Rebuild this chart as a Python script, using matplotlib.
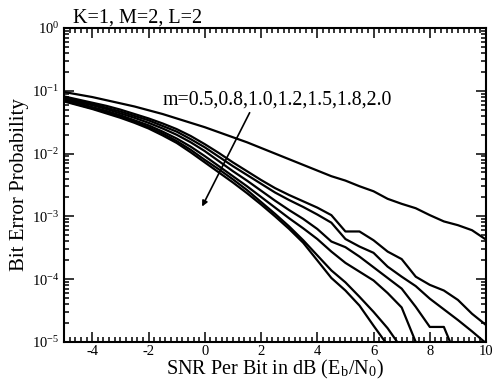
import numpy as np
import matplotlib
matplotlib.use("Agg")
import matplotlib.pyplot as plt
from matplotlib.ticker import LogLocator, MultipleLocator, NullFormatter

plt.rcParams['font.family'] = ['Liberation Serif', 'DejaVu Serif']
plt.rcParams['mathtext.fontset'] = 'stix'
plt.rcParams['axes.unicode_minus'] = False

# SNR per bit (dB)
snr = np.arange(-5, 10.01, 0.5)

# log10(BER), one list per fading parameter m
nan = np.nan
log_m05 = [-1.02, -1.06, -1.10, -1.15, -1.20, -1.25, -1.31, -1.37, -1.44, -1.51, -1.58,
           -1.66, -1.74, -1.82, -1.91, -2.00, -2.09, -2.18, -2.27, -2.36, -2.43,
           -2.52, -2.60, -2.72, -2.80, -2.87, -2.98, -3.08, -3.14, -3.22, -3.37]
log_m08 = [-1.09, -1.14, -1.19, -1.24, -1.30, -1.37, -1.44, -1.52, -1.61, -1.72, -1.85,
           -1.99, -2.14, -2.28, -2.42, -2.55, -2.66, -2.76, -2.86, -2.98, -3.24,
           -3.24, -3.38, -3.56, -3.68, -3.96, -4.09, -4.18, -4.33, -4.55, -4.73]
log_m10 = [-1.11, -1.16, -1.21, -1.27, -1.33, -1.40, -1.47, -1.56, -1.65, -1.77, -1.90,
           -2.05, -2.20, -2.34, -2.48, -2.62, -2.74, -2.85, -2.97, -3.10, -3.36,
           -3.48, -3.58, -3.80, -3.96, -4.11, -4.31, -4.48, -4.65, -4.83, -5.02]
log_m12 = [-1.13, -1.18, -1.23, -1.29, -1.36, -1.43, -1.51, -1.60, -1.70, -1.82, -1.96,
           -2.12, -2.28, -2.43, -2.59, -2.75, -2.90, -3.04, -3.20, -3.40, -3.49,
           -3.64, -3.81, -3.98, -4.15, -4.44, -4.76, -4.76, -5.30, nan, nan]
log_m15 = [-1.15, -1.20, -1.26, -1.32, -1.39, -1.47, -1.55, -1.65, -1.76, -1.89, -2.04,
           -2.20, -2.36, -2.52, -2.69, -2.86, -3.03, -3.19, -3.36, -3.56, -3.74,
           -3.88, -4.02, -4.22, -4.45, -5.00, -5.50, nan, nan, nan, nan]
log_m18 = [-1.16, -1.22, -1.28, -1.34, -1.41, -1.49, -1.58, -1.68, -1.80, -1.94, -2.10,
           -2.25, -2.41, -2.58, -2.77, -2.96, -3.16, -3.38, -3.62, -3.86, -4.05,
           -4.28, -4.52, -4.78, -5.10, nan, nan, nan, nan, nan, nan]
log_m20 = [-1.17, -1.23, -1.29, -1.36, -1.43, -1.51, -1.60, -1.71, -1.83, -1.98, -2.14,
           -2.30, -2.46, -2.63, -2.81, -3.00, -3.20, -3.42, -3.70, -3.98, -4.18,
           -4.42, -4.74, -5.05, nan, nan, nan, nan, nan, nan, nan]

curves = [log_m05, log_m08, log_m10, log_m12, log_m15, log_m18, log_m20]

fig = plt.figure(figsize=(4.97, 3.83), dpi=100)
ax = fig.add_axes([0.129, 0.107, 0.849, 0.820])

for c in curves:
    ax.semilogy(snr, 10.0 ** np.array(c, dtype=float), color='black', lw=1.6)

ax.set_xlim(-5, 10)
ax.set_ylim(1e-5, 1)

ax.xaxis.set_major_locator(MultipleLocator(2))
ax.xaxis.set_minor_locator(MultipleLocator(0.2))
ax.yaxis.set_major_locator(LogLocator(base=10, numticks=10))
ax.yaxis.set_minor_locator(LogLocator(base=10, subs=np.arange(2, 10), numticks=10))
ax.yaxis.set_minor_formatter(NullFormatter())

ax.tick_params(which='both', direction='in', top=True, right=True, width=1.1)
ax.tick_params(which='major', length=7, labelsize=10.5)
ax.tick_params(which='minor', length=3.5)
ax.tick_params(axis='x', which='major', pad=2)
for s in ax.spines.values():
    s.set_linewidth(1.5)

ax.set_xlabel(r'SNR Per Bit in dB (E$_\mathregular{b}$/N$_\mathregular{0}$)', fontsize=14.5, labelpad=0)
ax.set_ylabel('Bit Error Probability', fontsize=15, labelpad=2)
ax.set_title('K=1, M=2, L=2', fontsize=14.5, loc='left', pad=1, x=0.02)

ax.text(-1.5, 0.071, 'm=0.5,0.8,1.0,1.2,1.5,1.8,2.0', fontsize=14.3, va='center', ha='left')
ax.annotate('', xy=(-0.14, 1.31e-3), xytext=(1.64, 0.049),
            arrowprops=dict(arrowstyle='-|>', color='black', lw=1.2, mutation_scale=8))

fig.savefig('out.png', dpi=100)
